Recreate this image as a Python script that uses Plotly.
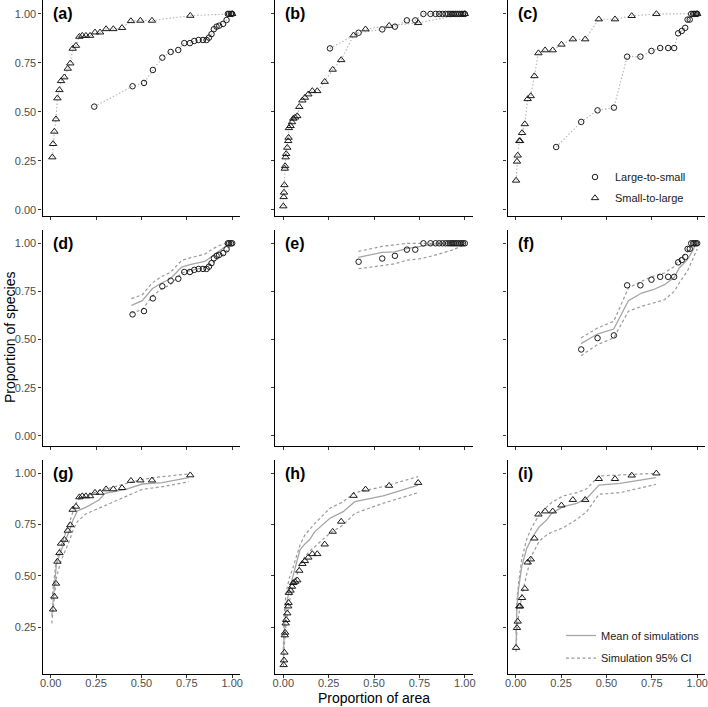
import plotly.graph_objects as go

FONT = "Liberation Sans, Arial, sans-serif"

# ---------------- data ----------------
# Column 1 : panels (a), (d), (g)
a_l2s_x = [0.240, 0.451, 0.514, 0.563, 0.615, 0.661, 0.703, 0.736, 0.767, 0.791, 0.815, 0.839,
           0.859, 0.872, 0.886, 0.899, 0.914, 0.928, 0.950, 0.969, 0.976, 0.983, 0.993, 1.000]
a_l2s_y = [0.527, 0.631, 0.648, 0.714, 0.777, 0.806, 0.816, 0.851, 0.851, 0.862, 0.867, 0.867,
           0.867, 0.879, 0.897, 0.922, 0.935, 0.940, 0.949, 0.969, 1.000, 1.000, 1.000, 1.000]
a_s2l_x = [0.009, 0.013, 0.020, 0.029, 0.037, 0.048, 0.057, 0.075, 0.094, 0.108, 0.121, 0.139, 0.158,
           0.174, 0.194, 0.217, 0.244, 0.272, 0.305, 0.345, 0.393, 0.442, 0.494, 0.558, 0.769, 1.000]
a_s2l_y = [0.269, 0.337, 0.400, 0.463, 0.570, 0.612, 0.658, 0.677, 0.721, 0.748, 0.823, 0.838, 0.884,
           0.889, 0.889, 0.889, 0.906, 0.906, 0.923, 0.923, 0.929, 0.964, 0.966, 0.966, 0.991, 1.000]

# Column 2 : panels (b), (e), (h)
b_l2s_x = [0.257, 0.415, 0.545, 0.615, 0.681, 0.727, 0.772, 0.811, 0.839, 0.859, 0.877, 0.894,
           0.908, 0.920, 0.930, 0.940, 0.950, 0.960, 0.970, 0.980, 0.990, 1.000]
b_l2s_y = [0.824, 0.904, 0.921, 0.935, 0.967, 0.967, 1.000, 1.000, 1.000, 1.000, 1.000, 1.000,
           1.000, 1.000, 1.000, 1.000, 1.000, 1.000, 1.000, 1.000, 1.000, 1.000]
b_s2l_x = [0.000, 0.002, 0.004, 0.006, 0.008, 0.010, 0.013, 0.016, 0.022, 0.027, 0.029, 0.031, 0.040,
           0.048, 0.055, 0.065, 0.077, 0.088, 0.105, 0.119, 0.138, 0.160, 0.187, 0.228, 0.272, 0.319,
           0.387, 0.453, 0.583, 0.743, 1.000]
b_s2l_y = [0.019, 0.066, 0.089, 0.127, 0.211, 0.224, 0.269, 0.286, 0.318, 0.352, 0.369, 0.418, 0.429,
           0.448, 0.466, 0.472, 0.479, 0.526, 0.559, 0.573, 0.590, 0.607, 0.607, 0.654, 0.716, 0.765,
           0.891, 0.922, 0.940, 0.954, 1.000]

# Column 3 : panels (c), (f), (i)
c_l2s_x = [0.223, 0.361, 0.451, 0.541, 0.614, 0.687, 0.748, 0.796, 0.840, 0.873, 0.895, 0.915,
           0.934, 0.947, 0.959, 0.967, 0.978, 0.985, 0.993, 1.000]
c_l2s_y = [0.321, 0.449, 0.508, 0.522, 0.782, 0.782, 0.811, 0.826, 0.826, 0.826, 0.901, 0.913,
           0.929, 0.971, 0.971, 1.000, 1.000, 1.000, 1.000, 1.000]
c_s2l_x = [0.002, 0.007, 0.011, 0.020, 0.024, 0.035, 0.050, 0.066, 0.083, 0.103, 0.125, 0.162,
           0.204, 0.252, 0.315, 0.383, 0.458, 0.547, 0.639, 0.775, 1.000]
c_s2l_y = [0.150, 0.247, 0.278, 0.352, 0.352, 0.393, 0.438, 0.566, 0.581, 0.683, 0.800, 0.815,
           0.815, 0.844, 0.871, 0.871, 0.973, 0.973, 0.990, 1.000, 1.000]

# Simulations (mean and 95% CI)
d_sim_x = [0.445, 0.505, 0.559, 0.604, 0.659, 0.722, 0.767, 0.849, 0.894, 0.949, 0.985, 1.000]
d_sim_mean = [0.678, 0.702, 0.764, 0.790, 0.816, 0.877, 0.889, 0.906, 0.937, 0.976, 0.998, 1.000]
d_sim_hi = [0.713, 0.733, 0.794, 0.824, 0.849, 0.912, 0.924, 0.944, 0.972, 0.996, 1.000, 1.000]
d_sim_lo = [0.638, 0.656, 0.725, 0.759, 0.785, 0.846, 0.858, 0.875, 0.898, 0.941, 0.979, 1.000]

e_sim_x = [0.414, 0.544, 0.613, 0.679, 0.757, 0.847, 0.937, 1.000]
e_sim_mean = [0.927, 0.953, 0.955, 0.972, 0.984, 0.998, 1.000, 1.000]
e_sim_hi = [0.958, 0.984, 0.992, 1.000, 1.000, 1.000, 1.000, 1.000]
e_sim_lo = [0.868, 0.886, 0.893, 0.912, 0.920, 0.941, 0.967, 0.993]

f_sim_x = [0.360, 0.450, 0.540, 0.621, 0.694, 0.757, 0.820, 0.874, 0.901, 0.946, 0.973, 0.991, 1.000]
f_sim_mean = [0.479, 0.529, 0.555, 0.702, 0.742, 0.759, 0.785, 0.824, 0.872, 0.915, 0.958, 0.993, 1.000]
f_sim_hi = [0.509, 0.560, 0.595, 0.768, 0.803, 0.829, 0.846, 0.880, 0.915, 0.955, 0.993, 1.000, 1.000]
f_sim_lo = [0.417, 0.474, 0.509, 0.647, 0.673, 0.690, 0.707, 0.751, 0.794, 0.855, 0.915, 0.955, 0.970]

g_sim_x = [0.006, 0.018, 0.031, 0.055, 0.083, 0.105, 0.123, 0.147, 0.193, 0.266, 0.299, 0.413, 0.505, 0.615, 0.761]
g_sim_mean = [0.302, 0.432, 0.554, 0.619, 0.679, 0.724, 0.773, 0.817, 0.834, 0.870, 0.903, 0.922, 0.948, 0.955, 0.979]
g_sim_hi = [0.383, 0.481, 0.578, 0.643, 0.708, 0.765, 0.813, 0.870, 0.886, 0.916, 0.922, 0.951, 0.971, 0.984, 0.997]
g_sim_lo = [0.269, 0.383, 0.489, 0.570, 0.627, 0.675, 0.724, 0.765, 0.802, 0.830, 0.846, 0.890, 0.922, 0.935, 0.959]

h_sim_x = [0.000, 0.004, 0.015, 0.033, 0.055, 0.092, 0.119, 0.143, 0.174, 0.257, 0.330, 0.394, 0.550, 0.743]
h_sim_mean = [0.075, 0.213, 0.351, 0.432, 0.505, 0.627, 0.656, 0.675, 0.716, 0.781, 0.813, 0.862, 0.890, 0.943]
h_sim_hi = [0.140, 0.302, 0.416, 0.489, 0.545, 0.651, 0.700, 0.724, 0.756, 0.830, 0.862, 0.906, 0.935, 0.984]
h_sim_lo = [0.058, 0.140, 0.269, 0.375, 0.448, 0.554, 0.594, 0.619, 0.643, 0.708, 0.748, 0.805, 0.854, 0.906]

i_sim_x = [0.002, 0.006, 0.015, 0.033, 0.061, 0.088, 0.130, 0.171, 0.198, 0.262, 0.336, 0.391, 0.459, 0.574, 0.772]
i_sim_mean = [0.156, 0.334, 0.432, 0.545, 0.635, 0.683, 0.740, 0.773, 0.805, 0.838, 0.854, 0.878, 0.943, 0.951, 0.979]
i_sim_hi = [0.220, 0.367, 0.460, 0.580, 0.680, 0.735, 0.800, 0.838, 0.858, 0.890, 0.906, 0.925, 0.987, 0.992, 1.000]
i_sim_lo = [0.130, 0.220, 0.300, 0.400, 0.510, 0.600, 0.670, 0.700, 0.713, 0.735, 0.775, 0.813, 0.898, 0.906, 0.946]

panel_labels = ["(a)", "(b)", "(c)", "(d)", "(e)", "(f)", "(g)", "(h)", "(i)"]
series_names = ["Large-to-small", "Small-to-large"]
sim_names = ["Mean of simulations", "Simulation 95% CI"]
tick_vals = [0.0, 0.25, 0.5, 0.75, 1.0]
tick_text = ["0.00", "0.25", "0.50", "0.75", "1.00"]
x_title = "Proportion of area"
y_title = "Proportion of species"

# ---------------- layout geometry ----------------
W, H = 708, 707
col_zero_px = [50.7, 283.3, 515.7]
unit_px = 181.5
x_range = [-0.045, 1.045]
row_px = [(0, 216), (230, 446), (460, 674)]
y_ranges = [[-0.031, 1.071], [-0.052, 1.069], [0.022, 1.065]]

CIRCLE = dict(symbol="circle-open", size=5.5, color="#1a1a1a", line=dict(width=1))
TRI = dict(symbol="triangle-up-open", size=6.5, color="#1a1a1a", line=dict(width=1))
DOT = dict(color="#b5b5b5", width=1.1, dash="1.5px,2px")
MEAN = dict(color="#a6a6a6", width=1.3)
CI = dict(color="#9a9a9a", width=1.2, dash="3px,2.5px")

fig = go.Figure()

obs = [
    (a_l2s_x, a_l2s_y, a_s2l_x, a_s2l_y),
    (b_l2s_x, b_l2s_y, b_s2l_x, b_s2l_y),
    (c_l2s_x, c_l2s_y, c_s2l_x, c_s2l_y),
]
sims = {
    3: (d_sim_x, d_sim_mean, d_sim_lo, d_sim_hi),
    4: (e_sim_x, e_sim_mean, e_sim_lo, e_sim_hi),
    5: (f_sim_x, f_sim_mean, f_sim_lo, f_sim_hi),
    6: (g_sim_x, g_sim_mean, g_sim_lo, g_sim_hi),
    7: (h_sim_x, h_sim_mean, h_sim_lo, h_sim_hi),
    8: (i_sim_x, i_sim_mean, i_sim_lo, i_sim_hi),
}
# which observed points appear in rows 2 and 3
row3_slices = [slice(1, -1), slice(1, -1), slice(0, -1)]


def ax(n):
    return ("x" if n == 1 else f"x{n}"), ("y" if n == 1 else f"y{n}")


for n in range(9):
    r, c = divmod(n, 3)
    xa, ya = ax(n + 1)
    lx, ly, sx, sy = obs[c]
    if r == 0:
        for xs, ys in ((lx, ly), (sx, sy)):
            fig.add_trace(go.Scatter(x=xs, y=ys, mode="lines", line=DOT, showlegend=False,
                                     xaxis=xa, yaxis=ya, hoverinfo="skip"))
        for xs, ys, mk, name in ((lx, ly, CIRCLE, series_names[0]), (sx, sy, TRI, series_names[1])):
            fig.add_trace(go.Scatter(x=xs, y=ys, mode="markers", marker=mk, name=name,
                                     showlegend=(c == 2), legend="legend", legendgroup=name,
                                     xaxis=xa, yaxis=ya))
    else:
        sxs, smean, slo, shi = sims[n]
        show = (n == 8)
        fig.add_trace(go.Scatter(x=sxs, y=shi, mode="lines", line=CI, name=sim_names[1],
                                 showlegend=False, xaxis=xa, yaxis=ya))
        fig.add_trace(go.Scatter(x=sxs, y=slo, mode="lines", line=CI, name=sim_names[1],
                                 showlegend=False, xaxis=xa, yaxis=ya))
        fig.add_trace(go.Scatter(x=sxs, y=smean, mode="lines", line=MEAN, name=sim_names[0],
                                 showlegend=show, legend="legend2", legendgroup="mean",
                                 xaxis=xa, yaxis=ya))
        if show:
            fig.add_trace(go.Scatter(x=[None], y=[None], mode="lines", line=CI, name=sim_names[1],
                                     showlegend=True, legend="legend2", legendgroup="ci",
                                     xaxis=xa, yaxis=ya))
        if r == 1:
            fig.add_trace(go.Scatter(x=lx[1:], y=ly[1:], mode="markers", marker=CIRCLE,
                                     name=series_names[0], showlegend=False, xaxis=xa, yaxis=ya))
        else:
            sl = row3_slices[c]
            fig.add_trace(go.Scatter(x=sx[sl], y=sy[sl], mode="markers", marker=TRI,
                                     name=series_names[1], showlegend=False, xaxis=xa, yaxis=ya))

layout = dict(
    width=W, height=H, margin=dict(l=0, r=0, t=0, b=0),
    paper_bgcolor="white", plot_bgcolor="white",
    font=dict(family=FONT, size=11, color="#4d4d4d"),
    showlegend=True,
    legend=dict(x=575 / W, y=1 - 162.5 / H, xanchor="left", yanchor="top",
                bgcolor="rgba(255,255,255,0.6)", borderwidth=0, traceorder="grouped",
                tracegroupgap=2, font=dict(family=FONT, size=11, color="#1a1a1a")),
    legend2=dict(x=561 / W, y=1 - 621 / H, xanchor="left", yanchor="top",
                 bgcolor="rgba(255,255,255,0.6)", borderwidth=0, traceorder="grouped",
                 tracegroupgap=3.6, font=dict(family=FONT, size=11, color="#1a1a1a")),
)

annotations = []
for n in range(9):
    r, c = divmod(n, 3)
    key = "" if n == 0 else str(n + 1)
    x0 = col_zero_px[c] + x_range[0] * unit_px
    x1 = col_zero_px[c] + x_range[1] * unit_px
    top, bot = row_px[r]
    common = dict(showline=True, linecolor="black", linewidth=1.2, mirror=False,
                  showgrid=False, zeroline=False, ticks="outside", ticklen=3, tickwidth=1,
                  tickcolor="#333333", tickfont=dict(family=FONT, size=11, color="#4d4d4d"),
                  tickmode="array", tickvals=tick_vals, ticktext=tick_text, automargin=False)
    layout["xaxis" + key] = dict(common, domain=[x0 / W, x1 / W], range=x_range,
                                 anchor="y" + key, showticklabels=(r == 2),
                                 ticklabelstandoff=-4)
    layout["yaxis" + key] = dict(common, domain=[1 - bot / H, 1 - top / H], range=y_ranges[r],
                                 anchor="x" + key, showticklabels=(c == 0))
    xa, ya = ax(n + 1)
    annotations.append(dict(text="<b>" + panel_labels[n] + "</b>", x=0, y=1.0, xref=xa, yref=ya,
                            xanchor="left", yanchor="middle", showarrow=False,
                            font=dict(family=FONT, size=16, color="black")))

annotations.append(dict(text=y_title, x=9.5 / W, y=1 - 337.5 / H, xref="paper", yref="paper",
                        textangle=-90, showarrow=False, xanchor="center", yanchor="middle",
                        font=dict(family=FONT, size=14, color="black")))
annotations.append(dict(text=x_title, x=374 / W, y=1 - 698 / H, xref="paper", yref="paper",
                        showarrow=False, xanchor="center", yanchor="middle",
                        font=dict(family=FONT, size=14, color="black")))
layout["annotations"] = annotations

fig.update_layout(**layout)
fig.write_html("out.html", config={"displayModeBar": False},
               post_script="document.body.style.margin='0';document.body.style.overflow='hidden';")
